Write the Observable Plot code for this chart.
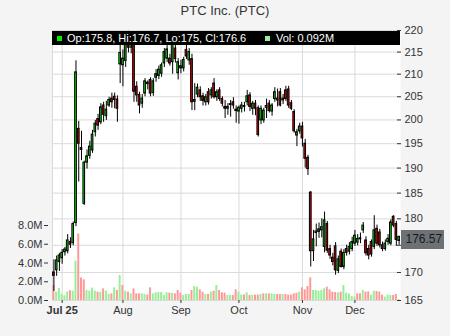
<!DOCTYPE html>
<html>
<head>
<meta charset="utf-8">
<script src="https://cdn.jsdelivr.net/npm/d3@7"></script>
<script src="https://cdn.jsdelivr.net/npm/@observablehq/plot@0.6"></script>
<style>
  html, body { margin:0; padding:0; background:#f4f4f4; }
  #chart { position:relative; width:450px; height:336px; font-family:"Liberation Sans", Arial, sans-serif; }
  #chart svg { position:absolute; left:0; top:0; }
  #title { position:absolute; left:0; top:3px; width:450px; text-align:center; font-size:13px; line-height:15px; color:#333; }
  #legend { position:absolute; left:52px; top:31px; width:348px; height:14px; background:#000; color:#fff; font-size:11px; line-height:14px; white-space:nowrap; }
  #legend .sq { position:absolute; top:4.5px; width:5px; height:5px; }
  #legend .t { position:absolute; top:0; }
</style>
</head>
<body>
<div id="chart"></div>
<script>
const title = "PTC Inc. (PTC)";

const dates = [
  "2025-06-26","2025-06-27","2025-06-30",
  "2025-07-01","2025-07-02","2025-07-03","2025-07-07","2025-07-08","2025-07-09","2025-07-10","2025-07-11",
  "2025-07-14","2025-07-15","2025-07-16","2025-07-17","2025-07-18","2025-07-21","2025-07-22","2025-07-23",
  "2025-07-24","2025-07-25","2025-07-28","2025-07-29","2025-07-30","2025-07-31",
  "2025-08-01","2025-08-04","2025-08-05","2025-08-06","2025-08-07","2025-08-08","2025-08-11","2025-08-12",
  "2025-08-13","2025-08-14","2025-08-15","2025-08-18","2025-08-19","2025-08-20","2025-08-21","2025-08-22",
  "2025-08-25","2025-08-26","2025-08-27","2025-08-28","2025-08-29",
  "2025-09-02","2025-09-03","2025-09-04","2025-09-05","2025-09-08","2025-09-09","2025-09-10","2025-09-11",
  "2025-09-12","2025-09-15","2025-09-16","2025-09-17","2025-09-18","2025-09-19","2025-09-22","2025-09-23",
  "2025-09-24","2025-09-25","2025-09-26","2025-09-29","2025-09-30",
  "2025-10-01","2025-10-02","2025-10-03","2025-10-06","2025-10-07","2025-10-08","2025-10-09","2025-10-10",
  "2025-10-13","2025-10-14","2025-10-15","2025-10-16","2025-10-17","2025-10-20","2025-10-21","2025-10-22",
  "2025-10-23","2025-10-24","2025-10-27","2025-10-28","2025-10-29","2025-10-30","2025-10-31",
  "2025-11-03","2025-11-04","2025-11-05","2025-11-06","2025-11-07","2025-11-10","2025-11-11","2025-11-12",
  "2025-11-13","2025-11-14","2025-11-17","2025-11-18","2025-11-19","2025-11-20","2025-11-21","2025-11-24",
  "2025-11-25","2025-11-26","2025-11-28",
  "2025-12-01","2025-12-02","2025-12-03","2025-12-04","2025-12-05","2025-12-08","2025-12-09","2025-12-10",
  "2025-12-11","2025-12-12","2025-12-15","2025-12-16","2025-12-17","2025-12-18","2025-12-19","2025-12-22",
  "2025-12-23"
];

const open = [
  170.0,170.4,171.9,172.6,173.7,173.9,175.6,175.4,179.2,198.1,
  194.1,182.9,191.1,192.5,193.6,197.4,200.2,199.5,203.1,200.8,
  203.1,204.6,205.0,204.4,212.2,212.0,213.0,218.5,216.0,217.5,
  207.2,205.4,203.5,205.7,207.8,208.7,205.8,209.2,209.6,210.1,
  212.4,213.5,213.5,212.7,215.8,210.2,211.3,211.3,215.5,213.1,
  213.4,204.3,205.5,206.4,205.1,203.8,206.0,205.3,207.9,204.9,
  206.4,204.5,202.8,202.4,203.4,203.8,202.2,201.8,202.4,202.8,
  203.8,205.3,202.4,203.5,202.5,199.9,199.9,202.6,203.5,201.8,
  204.5,204.2,206.0,204.2,206.4,206.6,203.6,201.7,196.7,197.6,
  198.6,195.0,192.1,185.1,173.9,177.3,177.5,177.8,174.7,179.0,
  174.3,172.7,174.8,170.3,173.8,171.0,174.3,173.8,174.3,175.3,
  175.5,176.3,177.8,175.9,174.3,175.6,174.7,178.1,177.4,175.0,
  174.3,175.6,175.3,180.4,179.0,175.8
];
const high = [
  172.3,173.0,173.5,174.2,174.6,177.0,176.4,179.4,213.0,199.7,
  197.6,191.4,193.7,195.5,197.8,199.9,201.2,203.5,203.8,204.0,
  204.9,205.8,205.8,205.2,216.5,215.5,219.0,219.8,219.5,218.5,
  208.3,206.0,205.5,209.0,208.5,209.2,209.0,211.0,211.8,212.5,
  215.8,216.5,214.5,218.0,217.5,213.5,213.1,213.8,216.5,215.8,
  214.5,207.9,207.8,207.2,205.8,205.5,206.8,207.0,209.0,206.5,
  207.0,205.0,204.2,203.5,204.2,204.8,203.0,203.0,203.8,203.8,
  206.4,205.9,204.0,204.2,203.0,203.0,202.5,204.5,204.2,203.5,
  207.0,206.7,206.8,205.5,207.3,207.3,204.2,202.2,198.0,199.3,
  199.5,195.9,192.6,185.3,177.8,179.0,179.2,180.0,181.3,179.5,
  175.0,173.5,175.5,173.0,174.3,174.2,175.0,175.5,176.5,177.8,
  177.0,177.3,179.3,176.6,175.0,176.0,180.6,178.8,178.0,175.6,
  176.0,177.0,179.8,180.6,179.5,176.7
];
const low = [
  166.6,169.3,170.2,171.5,173.0,173.4,174.4,174.9,178.5,187.2,
  191.5,182.6,189.8,191.8,193.0,196.4,197.8,199.0,199.5,199.9,
  202.7,202.5,202.4,199.5,207.9,207.2,211.5,214.8,214.6,203.8,
  203.8,201.3,202.5,205.0,206.5,205.0,205.1,208.2,208.8,209.3,
  211.5,212.6,211.8,210.0,212.5,208.7,210.1,210.5,213.3,212.0,
  202.0,202.0,204.8,204.0,203.0,203.0,203.2,204.5,204.5,204.0,
  204.0,202.8,200.3,201.0,200.6,202.3,199.3,199.1,201.5,201.7,
  203.0,201.8,201.0,200.9,196.4,199.0,199.3,200.3,201.5,200.8,
  203.8,202.8,202.8,203.3,204.0,202.5,202.0,197.2,194.4,197.0,
  194.3,190.0,188.5,171.0,172.0,174.7,176.3,176.4,173.6,173.5,
  172.4,171.2,169.5,169.8,170.8,170.5,173.0,173.2,173.8,174.8,
  174.9,175.3,177.2,173.0,172.3,172.8,174.2,174.8,174.5,173.8,
  173.9,175.0,174.9,178.3,174.8,175.0
];
const close = [
  169.4,172.2,173.1,173.6,174.2,175.9,175.1,179.0,210.4,195.0,
  193.7,191.1,192.4,194.4,196.9,199.2,198.8,202.7,201.1,202.2,
  204.3,203.8,204.3,202.4,214.8,213.5,217.5,216.0,217.0,206.1,
  205.3,203.1,204.6,208.4,208.1,205.7,208.4,210.0,211.0,212.0,
  215.0,215.6,212.4,216.9,213.4,212.7,211.8,213.2,214.0,215.0,
  203.8,203.9,207.0,204.9,204.1,204.9,203.8,206.4,204.9,206.0,
  204.5,203.5,202.4,202.8,203.2,203.1,201.9,202.6,203.1,203.0,
  205.1,202.8,203.5,202.4,196.8,202.4,202.0,203.0,201.9,203.1,
  206.0,204.6,203.1,204.6,204.5,203.1,202.4,197.6,197.4,198.6,
  196.1,191.9,189.8,173.9,176.1,177.6,178.0,178.4,179.7,174.0,
  173.1,171.9,170.4,172.4,171.0,173.6,173.6,174.7,175.6,176.8,
  176.2,176.1,178.7,173.5,173.1,173.3,177.8,175.3,175.0,174.3,
  175.3,176.2,179.3,178.7,176.0,176.57
];
// volume in millions of shares
const volume = [
  1.6,0.9,1.3,0.65,0.5,0.9,1.05,1.0,4.2,7.1,
  2.4,2.2,1.07,1.0,1.32,1.0,0.89,0.89,1.24,1.0,
  0.64,0.71,1.35,1.07,2.67,1.6,0.99,0.89,0.71,1.24,
  0.71,0.71,0.71,0.64,0.57,1.35,0.71,0.82,0.85,0.85,
  0.53,0.82,0.78,0.78,0.71,1.07,0.78,0.53,0.64,0.64,
  1.07,1.49,1.42,1.14,0.89,0.64,0.64,0.89,0.99,1.6,
  1.07,0.82,0.78,0.53,0.53,0.53,1.14,0.89,0.57,0.6,
  0.82,0.53,0.57,0.57,0.57,0.64,0.71,0.71,0.71,0.71,
  0.64,0.64,0.64,0.64,0.64,0.57,0.57,0.71,0.78,0.89,
  1.35,1.14,1.49,2.42,1.07,1.07,0.99,1.07,1.24,1.42,
  1.14,0.89,0.85,0.82,0.89,1.6,0.78,0.71,0.43,0.36,
  0.71,0.71,1.07,0.89,0.92,0.57,0.99,0.96,0.89,0.57,
  0.36,0.57,0.53,0.53,0.64,0.092
];

const priceTicks = [165,170,175,180,185,190,195,200,205,210,215,220];
const volTicks = [0,2,4,6,8];
const monthStarts = ["2025-07-01","2025-08-01","2025-09-02","2025-10-01","2025-11-03","2025-12-01"];
const monthLabels = ["Jul 25","Aug","Sep","Oct","Nov","Dec"];

const upColor = "#00ee00", downColor = "#ee0000";
const volUp = "#99ee99", volDown = "#ff9999";
const gridColor = "#dadada";

const W = 450, H = 336, mL = 52, mR = 50, mT = 30, mB = 36;
const idx = d3.range(dates.length);
const last = dates.length - 1;
const monthIdx = monthStarts.map(d => dates.indexOf(d));
const step = (W - mL - mR) / dates.length;

const base = {
  width: W, height: H, marginTop: mT, marginRight: mR, marginBottom: mB, marginLeft: mL,
  style: {background: "transparent", fontFamily: '"Liberation Sans", Arial, sans-serif', fontSize: "11px", color: "#333"}
};
const xScale = {type: "linear", domain: [-0.5, dates.length - 0.5]};
const yPrice = {type: "log", domain: [priceTicks[0], priceTicks[priceTicks.length - 1]]};

// the last-price box hides the price tick label lying behind it
const lastLabelHalf = 11;
const yPx = v => (H - mB) - (H - mT - mB) * Math.log(v / yPrice.domain[0]) / Math.log(yPrice.domain[1] / yPrice.domain[0]);
const hiddenByBox = d => Math.abs(yPx(d) - yPx(close[last]) - 2.5) < lastLabelHalf;

const chart = document.getElementById("chart");

// layer 1: background, grid, price and date axes
const gridLayer = Plot.plot({
  ...base, x: xScale, y: yPrice,
  marks: [
    Plot.frame({fill: "white", stroke: null}),
    Plot.gridY(priceTicks, {stroke: gridColor, strokeOpacity: 1}),
    Plot.gridX(monthIdx, {stroke: gridColor, strokeOpacity: 1}),
    Plot.frame({anchor: "left", stroke: gridColor, strokeOpacity: 1}),
    Plot.axisY(priceTicks, {anchor: "right", tickSize: -4, tickPadding: 8, fill: "#333",
      tickFormat: d => (hiddenByBox(d) ? "" : String(d))}),
    Plot.axisX(monthIdx.slice(1), {anchor: "bottom", tickSize: 3, tickPadding: 3, fill: "#333",
      tickFormat: i => monthLabels[monthIdx.indexOf(i)]}),
    Plot.axisX(monthIdx.slice(0, 1), {anchor: "bottom", tickSize: 3, tickPadding: 3, fill: "#333", fontWeight: "bold",
      tickFormat: i => monthLabels[monthIdx.indexOf(i)]})
  ]
});
chart.appendChild(gridLayer);

// layer 2: volume bars with their own scale on the left
const volLayer = Plot.plot({
  ...base, x: {...xScale, axis: null}, y: {domain: [0, 28.8]}, color: {type: "identity"},
  marks: [
    Plot.rect(idx, {
      x1: i => i - 0.36, x2: i => i + 0.36, y1: 0, y2: i => volume[i],
      fill: i => ((i === 0 ? close[0] < open[0] : close[i] < close[i - 1]) ? volDown : volUp)
    }),
    Plot.axisY(volTicks, {anchor: "left", tickSize: 4, tickPadding: 2, dx: -4, fill: "#333",
      tickFormat: d => d.toFixed(1) + "M"})
  ]
});
chart.appendChild(volLayer);

// layer 3: candlesticks and last-price label
const candleLayer = Plot.plot({
  ...base, x: {...xScale, axis: null}, y: {...yPrice, axis: null}, color: {type: "identity"},
  marks: [
    Plot.ruleX(idx, {x: i => i, y1: i => low[i], y2: i => high[i], stroke: "#000", strokeWidth: 1}),
    Plot.rect(idx, {
      x1: i => i - 0.3, x2: i => i + 0.3, y1: i => open[i], y2: i => close[i],
      fill: i => (close[i] >= open[i] ? upColor : downColor), stroke: "#000", strokeWidth: 1
    }),
    Plot.ruleY([close[last]], {x1: last + 0.5 + 1 / step, x2: last + 0.5 + 44 / step, stroke: "#6c7176", strokeWidth: 19, dy: 2.5}),
    Plot.text([close[last]], {x: last + 0.5 + 5 / step, y: d => d, text: d => d.toFixed(2), textAnchor: "start",
      fontSize: 12, fill: "#1a1a1a", dy: 2.5})
  ]
});
chart.appendChild(candleLayer);

// title
const t = document.createElement("div");
t.id = "title";
t.textContent = title;
chart.appendChild(t);

// legend bar (values of the last session)
const f1 = v => d3.format("~f")(+v.toFixed(1));
const lg = document.createElement("div");
lg.id = "legend";
lg.innerHTML =
  `<span class="sq" style="left:5px;background:${upColor}"></span>` +
  `<span class="t" style="left:15px">Op:${f1(open[last])}, Hi:${f1(high[last])}, Lo:${f1(low[last])}, Cl:${f1(close[last])}</span>` +
  `<span class="sq" style="left:213px;background:${volUp}"></span>` +
  `<span class="t" style="left:224px">Vol: ${volume[last]}M</span>`;
chart.appendChild(lg);
</script>
</body>
</html>
